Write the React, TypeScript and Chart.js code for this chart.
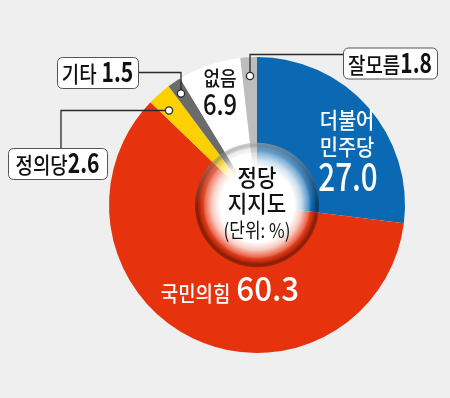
import React, { useEffect, useRef } from 'react';
import { Chart, registerables } from 'chart.js';

Chart.register(...registerables);

const parties = ['더불어민주당', '국민의힘', '정의당', '기타', '없음', '잘모름'];
const support = [27.0, 60.3, 2.6, 1.5, 6.9, 1.8];
const partyColors = ['#0b69b4', '#e6330e', '#fdd000', '#6b6b6b', '#ffffff', '#bdbdbd'];
const centerTitle = ['정당', '지지도'];
const unitLabel = '(단위: %)';

const FONT = '"Noto Sans CJK KR", "Noto Sans", sans-serif';

type Part = { t: string; size: number; weight?: number; sx?: number };

function drawRun(ctx: CanvasRenderingContext2D, parts: Part[], cx: number, cy: number, color: string, sx = 1, gap = 0) {
  ctx.save();
  ctx.textBaseline = 'alphabetic';
  ctx.textAlign = 'left';
  ctx.fillStyle = color;
  const widths = parts.map((p) => {
    ctx.font = `${p.weight ?? 500} ${p.size}px ${FONT}`;
    return ctx.measureText(p.t).width * (p.sx ?? sx);
  });
  const total = widths.reduce((a, b) => a + b, 0) + gap * (parts.length - 1);
  let x = cx - total / 2;
  parts.forEach((p, i) => {
    ctx.font = `${p.weight ?? 500} ${p.size}px ${FONT}`;
    ctx.save();
    ctx.translate(x, cy);
    ctx.scale(p.sx ?? sx, 1);
    ctx.fillText(p.t, 0, 0);
    ctx.restore();
    x += widths[i] + gap;
  });
  ctx.restore();
}

function box(ctx: CanvasRenderingContext2D, x: number, y: number, w: number, h: number) {
  ctx.save();
  ctx.beginPath();
  ctx.roundRect(x + 0.5, y + 0.5, w, h, 5);
  ctx.fillStyle = '#ffffff';
  ctx.fill();
  ctx.lineWidth = 1;
  ctx.strokeStyle = '#555555';
  ctx.stroke();
  ctx.restore();
}

function leader(ctx: CanvasRenderingContext2D, pts: number[][], dot: number[]) {
  ctx.save();
  ctx.strokeStyle = '#2a2a2a';
  ctx.lineWidth = 1.3;
  ctx.beginPath();
  ctx.moveTo(pts[0][0], pts[0][1]);
  for (let i = 1; i < pts.length; i++) ctx.lineTo(pts[i][0], pts[i][1]);
  ctx.stroke();
  ctx.beginPath();
  ctx.arc(dot[0], dot[1], 3.6, 0, Math.PI * 2);
  ctx.fillStyle = '#ffffff';
  ctx.fill();
  ctx.lineWidth = 1.3;
  ctx.stroke();
  ctx.restore();
}

const overlayPlugin = {
  id: 'overlay',
  beforeDraw(chart: any) {
    const ctx = chart.ctx;
    ctx.save();
    ctx.fillStyle = '#efefef';
    ctx.fillRect(0, 0, chart.width, chart.height);
    ctx.restore();
  },
  afterDraw(chart: any) {
    const ctx: CanvasRenderingContext2D = chart.ctx;
    const arc = chart.getDatasetMeta(0).data[0];
    const cx = arc.x;
    const cy = arc.y;
    const R = arc.outerRadius;
    const r = R * 0.42;

    // glossy center hole
    ctx.save();
    const g = ctx.createRadialGradient(cx, cy, 0, cx, cy, r);
    g.addColorStop(0, 'rgba(255,255,255,1)');
    g.addColorStop(0.6, 'rgba(255,255,255,1)');
    g.addColorStop(0.72, 'rgba(255,255,255,0.75)');
    g.addColorStop(0.84, 'rgba(255,255,255,0.25)');
    g.addColorStop(0.9, 'rgba(0,0,0,0.08)');
    g.addColorStop(0.96, 'rgba(0,0,0,0.42)');
    g.addColorStop(1, 'rgba(0,0,0,0.3)');
    ctx.beginPath();
    ctx.arc(cx, cy, r, 0, Math.PI * 2);
    ctx.fillStyle = g;
    ctx.fill();
    const g2 = ctx.createLinearGradient(0, cy - r, 0, cy + r);
    g2.addColorStop(0, 'rgba(255,255,255,0.4)');
    g2.addColorStop(0.5, 'rgba(255,255,255,0)');
    g2.addColorStop(1, 'rgba(255,255,255,0)');
    ctx.fillStyle = g2;
    ctx.fill();
    ctx.restore();

    const v = support.map((n) => n.toFixed(1));

    // center title
    drawRun(ctx, [{ t: centerTitle[0], size: 23 }], cx, cy - 19, '#111111', 0.92);
    drawRun(ctx, [{ t: centerTitle[1], size: 23 }], cx, cy + 7, '#111111', 0.92);
    drawRun(ctx, [{ t: unitLabel, size: 20, weight: 400 }], cx, cy + 33, '#111111', 0.85);

    // 더불어민주당
    drawRun(ctx, [{ t: '더불어', size: 22 }], 347, 128, '#ffffff', 0.9);
    drawRun(ctx, [{ t: '민주당', size: 22 }], 347, 155, '#ffffff', 0.9);
    drawRun(ctx, [{ t: v[0], size: 39, weight: 500 }], 348, 191, '#ffffff', 0.76);

    // 국민의힘
    drawRun(ctx, [{ t: '국민의힘', size: 21 }, { t: v[1], size: 34, weight: 500, sx: 0.92 }], 230, 301, '#ffffff', 0.9, 6);

    // 없음
    drawRun(ctx, [{ t: parties[4], size: 20 }], 220, 86, '#111111', 0.9);
    drawRun(ctx, [{ t: v[4], size: 29 }], 220, 115, '#111111', 0.82);

    // 잘모름 box
    leader(ctx, [[343, 54.5], [250, 54.5], [250, 76]], [250, 76]);
    box(ctx, 343, 47.5, 94, 31);
    drawRun(ctx, [{ t: parties[5], size: 22 }, { t: v[5], size: 27, weight: 700, sx: 0.78 }], 390, 72.5, '#111111', 0.86, 0);

    // 기타 box
    leader(ctx, [[138, 72.5], [181, 72.5], [181, 93.5]], [181, 93.5]);
    box(ctx, 57, 57, 81, 31);
    drawRun(ctx, [{ t: parties[3], size: 22 }, { t: v[3], size: 27, weight: 700, sx: 0.78 }], 97.5, 81.5, '#111111', 0.86, 5);

    // 정의당 box
    leader(ctx, [[169, 110.5], [61, 110.5], [61, 148]], [169, 110.5]);
    box(ctx, 8, 148, 99, 31);
    drawRun(ctx, [{ t: parties[2], size: 22 }, { t: v[2], size: 27, weight: 700, sx: 0.78 }], 57.5, 173, '#111111', 0.86, 0);
  },
};

export default function App() {
  const ref = useRef<HTMLCanvasElement>(null);
  useEffect(() => {
    document.body.style.margin = '0';
    const chart = new Chart(ref.current!, {
      type: 'doughnut',
      data: {
        labels: parties,
        datasets: [
          {
            data: support,
            backgroundColor: partyColors,
            borderWidth: 0,
            hoverOffset: 0,
            offset: 0,
          },
        ],
      },
      options: {
        responsive: false,
        animation: false,
        devicePixelRatio: 1,
        cutout: 0,
        rotation: 0,
        events: [],
        layout: { padding: { left: 109, right: 45, top: 57, bottom: 45 } },
        plugins: { legend: { display: false }, tooltip: { enabled: false } },
      },
      plugins: [overlayPlugin],
    } as any);
    return () => chart.destroy();
  }, []);
  return (
    <div style={{ width: 450, height: 398 }}>
      <canvas ref={ref} width={450} height={398} />
    </div>
  );
}
